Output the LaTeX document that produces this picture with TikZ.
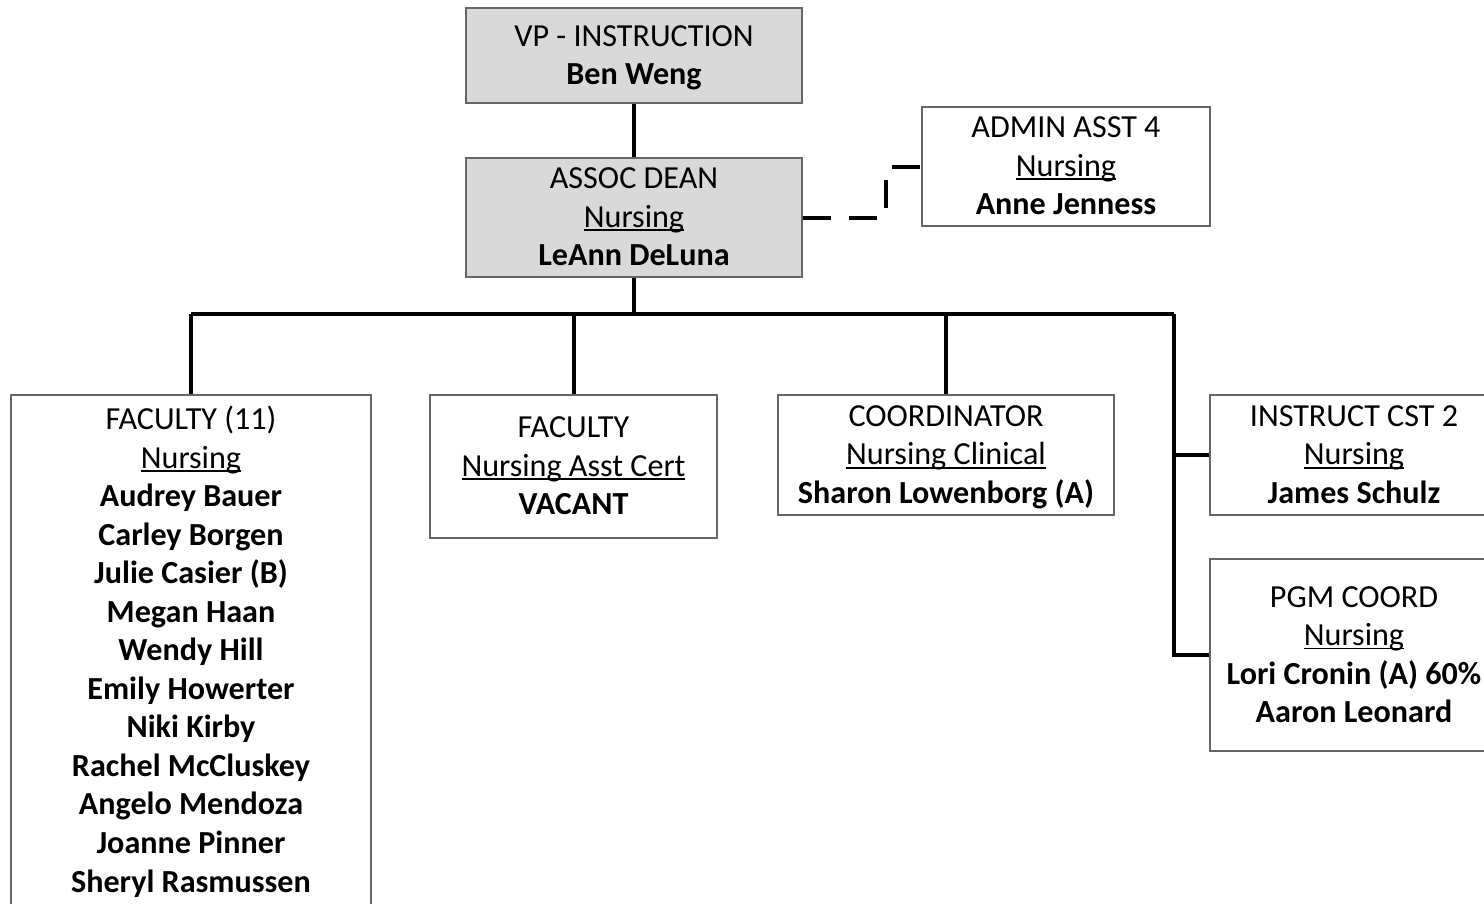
\documentclass[tikz,border=0pt]{standalone}
\usepackage{fontspec}
\setmainfont{Carlito}
\newcommand\myul[1]{\setbox0\hbox{#1}\rlap{\rule[-0.12em]{\wd0}{0.055em}}\box0}
\newcommand\ls{\rule[-7.1pt]{0pt}{28.9pt}}
\definecolor{boxgray}{HTML}{D9D9D9}
\begin{document}
\begin{tikzpicture}[x=0.75pt,y=-0.75pt,
  orgbox/.style={draw=black!60, line width=0.9pt, align=center, inner sep=0pt,
    font=\fontsize{24.1}{28.9}\selectfont},
  topbox/.style={orgbox, fill=boxgray},
  conn/.style={line width=3pt},
  dconn/.style={line width=3pt, dash pattern=on 21pt off 14pt}]
\begin{scope}
\clip (0,0) rectangle (1484,903);
\node[topbox, minimum width=252pt, minimum height=71.25pt] (vp) at (634,55.5)
  {\ls VP - INSTRUCTION\\\textbf{Ben Weng}\ls};
\node[topbox, minimum width=252pt, minimum height=89.25pt] (dean) at (634,217.5)
  {\ls ASSOC DEAN\\\myul{Nursing}\\\textbf{LeAnn DeLuna}\ls};
\node[orgbox, minimum width=216pt, minimum height=89.25pt] (admin) at (1066,166.5)
  {\ls ADMIN ASST 4\\\myul{Nursing}\\\textbf{Anne Jenness}\ls};
\node[orgbox, minimum width=270pt, minimum height=384pt] (fac1) at (191,651)
  {\ls FACULTY (11)\\\myul{Nursing}\\\textbf{Audrey Bauer}\\\textbf{Carley Borgen}\\\textbf{Julie Casier (B)}\\\textbf{Megan Haan}\\\textbf{Wendy Hill}\\\textbf{Emily Howerter}\\\textbf{Niki Kirby}\\\textbf{Rachel McCluskey}\\\textbf{Angelo Mendoza}\\\textbf{Joanne Pinner}\\\textbf{Sheryl Rasmussen}\ls};
\node[orgbox, minimum width=215.25pt, minimum height=107.25pt] (fac2) at (573.5,466.5)
  {\ls FACULTY\\\myul{Nursing Asst Cert}\\\textbf{VACANT}\ls};
\node[orgbox, minimum width=252pt, minimum height=90pt] (coord) at (946,455)
  {\ls COORDINATOR\\\myul{Nursing Clinical}\\\textbf{Sharon Lowenborg (A)}\ls};
\node[orgbox, minimum width=216pt, minimum height=90pt] (inst) at (1354,455)
  {\ls INSTRUCT CST 2\\\myul{Nursing}\\\textbf{James Schulz}\ls};
\node[orgbox, minimum width=216pt, minimum height=144pt] (pgm) at (1354,655)
  {\ls PGM COORD\\\myul{Nursing}\\\textbf{Lori Cronin (A) 60\%}\\\textbf{Aaron Leonard}\ls};

\coordinate (bus) at (634,314);
\coordinate (rv) at (1174,314);
\coordinate (dj) at (886,0);

\draw[conn] (vp) -- (dean);
\draw[conn] (dean.south) -- (bus);
\draw[conn] (fac1.north |- bus) -- (rv);
\draw[conn] (fac1.north |- bus) -- (fac1.north);
\draw[conn] (fac2.north |- bus) -- (fac2.north);
\draw[conn] (coord.north |- bus) -- (coord.north);
\draw[conn] (rv) |- (pgm.west);
\draw[conn] (rv |- inst.west) -- (inst.west);
\draw[dconn] (dean.east) -- (dean.east -| dj) -- (dj |- admin.west) -- (admin.west);
\end{scope}
\pgfresetboundingbox
\useasboundingbox (0,0) rectangle (1484,903);
\end{tikzpicture}
\end{document}
